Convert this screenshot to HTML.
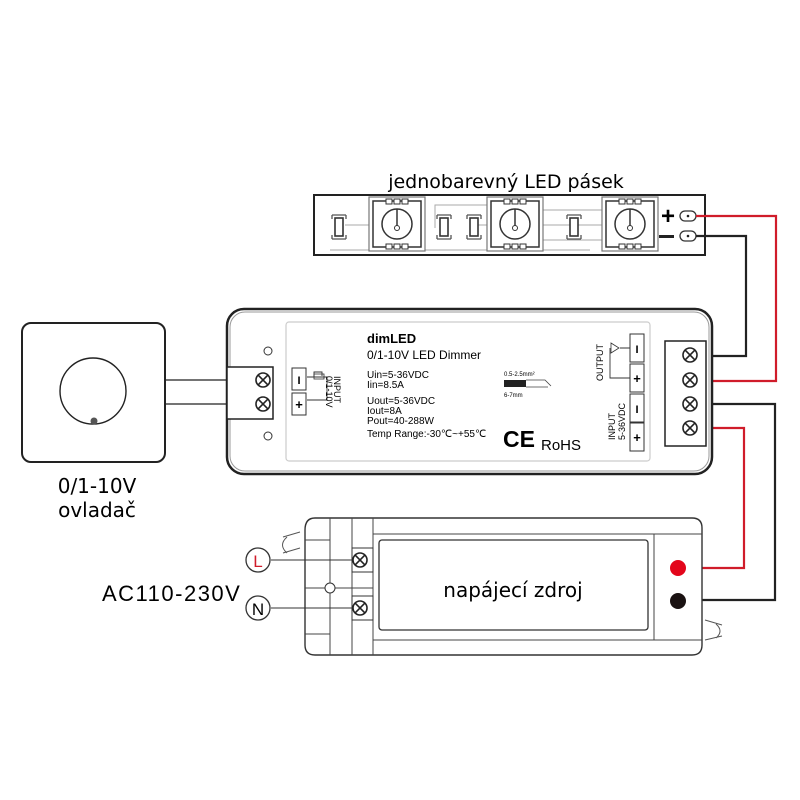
<!DOCTYPE html>
<html><head><meta charset="utf-8"><style>
html,body{margin:0;padding:0;background:#fff;}
svg{display:block;}
text{font-family:"Liberation Sans",Arial,sans-serif;}
.v{font-family:"DejaVu Sans","Liberation Sans",sans-serif;}
</style></head><body>
<svg width="800" height="800" viewBox="0 0 800 800" xmlns="http://www.w3.org/2000/svg">
<defs>
<g id="scr"><circle r="7" fill="#fff" stroke="#222" stroke-width="1.6"/><path d="M-4.9,-4.9L4.9,4.9M4.9,-4.9L-4.9,4.9" stroke="#222" stroke-width="1.6"/></g>
<g id="led"><rect x="-28" y="-27" width="56" height="54" fill="#fff" stroke="#777" stroke-width="1.2"/><rect x="-24" y="-23" width="48" height="46" fill="none" stroke="#333" stroke-width="1.5"/><circle r="15" fill="none" stroke="#333" stroke-width="1.5"/><path d="M0,-15V2" stroke="#333" stroke-width="1.5"/><circle cy="4" r="2.5" fill="none" stroke="#333"/><rect x="-11" y="-25" width="6" height="5" fill="#fff" stroke="#333"/><rect x="-3" y="-25" width="6" height="5" fill="#fff" stroke="#333"/><rect x="5" y="-25" width="6" height="5" fill="#fff" stroke="#333"/><rect x="-11" y="20" width="6" height="5" fill="#fff" stroke="#333"/><rect x="-3" y="20" width="6" height="5" fill="#fff" stroke="#333"/><rect x="5" y="20" width="6" height="5" fill="#fff" stroke="#333"/></g>
<g id="res"><path d="M-7,-12h14M-7,12h14M-7,-12v4M7,-12v4M-7,12v-4M7,12v-4" stroke="#555" stroke-width="1.3" fill="none"/><rect x="-4" y="-9" width="8" height="18" fill="#fff" stroke="#333" stroke-width="1.6"/></g>
</defs>

<text x="506" y="188" text-anchor="middle" font-size="19" class="v">jednobarevný LED pásek</text>
<g stroke="#aaa" stroke-width="1" fill="none">
<path d="M330,250H590M345,225H370M435,228V205H520V245M470,225H490M540,225H610M540,210H620M540,240H620M490,205V250"/>
</g>
<rect x="314" y="195" width="391" height="60" fill="none" stroke="#222" stroke-width="2"/>
<use href="#res" x="339" y="227"/>
<use href="#led" x="397" y="224"/>
<use href="#res" x="444" y="227"/>
<use href="#res" x="474" y="227"/>
<use href="#led" x="515" y="224"/>
<use href="#res" x="574" y="227"/>
<use href="#led" x="630" y="224"/>
<text x="668" y="224" text-anchor="middle" font-size="24" font-weight="bold">+</text>
<rect x="659" y="235" width="15" height="3" fill="#222"/>
<rect x="680" y="211" width="16" height="10" rx="5" fill="#fff" stroke="#333" stroke-width="1.3"/><circle cx="688" cy="216" r="1.3" fill="#222"/>
<rect x="680" y="231" width="16" height="10" rx="5" fill="#fff" stroke="#333" stroke-width="1.3"/><circle cx="688" cy="236" r="1.3" fill="#222"/>

<g fill="none" stroke-width="2.2">
<path d="M696,216H776V381H698" stroke="#d01c2a"/>
<path d="M696,236H746V356H698" stroke="#222"/>
<path d="M698,404H775V600H680" stroke="#222"/>
<path d="M698,428H744V568H680" stroke="#d01c2a"/>
</g>

<rect x="22" y="323" width="143" height="139" rx="9" fill="#fff" stroke="#222" stroke-width="2"/>
<circle cx="93" cy="391" r="33" fill="none" stroke="#222" stroke-width="1.4"/>
<circle cx="94" cy="421" r="3.5" fill="#555"/>
<path d="M165,380H262M165,404H262" stroke="#222" stroke-width="1.3"/>
<text x="97" y="493" text-anchor="middle" font-size="20" class="v">0/1-10V</text>
<text x="97" y="517" text-anchor="middle" font-size="20" class="v">ovladač</text>

<rect x="227" y="309" width="485" height="165" rx="17" fill="#fff" stroke="#222" stroke-width="2.5"/>
<rect x="230" y="312" width="479" height="159" rx="15" fill="none" stroke="#999" stroke-width="1"/>
<rect x="286" y="322" width="364" height="139" rx="3" fill="#fff" stroke="#ccc" stroke-width="1.2"/>
<circle cx="268" cy="351" r="4" fill="none" stroke="#333"/>
<circle cx="268" cy="436" r="4" fill="none" stroke="#333"/>
<rect x="227" y="367" width="46" height="52" fill="#fff" stroke="#222" stroke-width="1.5"/>
<use href="#scr" x="263" y="380"/><use href="#scr" x="263" y="404"/>
<rect x="292" y="368" width="14" height="22" fill="#fff" stroke="#333"/><text x="299" y="384" text-anchor="middle" font-size="11" font-weight="bold">I</text>
<rect x="292" y="393" width="14" height="22" fill="#fff" stroke="#333"/><text x="299" y="409" text-anchor="middle" font-size="13" font-weight="bold">+</text>
<path d="M307,377H314V372H322V376M310,377H327V400H307" fill="none" stroke="#333" stroke-width="0.9"/>
<rect x="314" y="374" width="10" height="5" fill="none" stroke="#333" stroke-width="0.8"/>
<text transform="translate(334,376) rotate(90)" font-size="9">INPUT</text>
<text transform="translate(326,376) rotate(90)" font-size="9">0/1-10V</text>
<text x="367" y="343" font-size="13" font-weight="bold">dimLED</text>
<text x="367" y="359" font-size="12">0/1-10V LED Dimmer</text>
<text x="367" y="378" font-size="10">Uin=5-36VDC</text>
<text x="367" y="388" font-size="10">Iin=8.5A</text>
<text x="367" y="404" font-size="10">Uout=5-36VDC</text>
<text x="367" y="414" font-size="10">Iout=8A</text>
<text x="367" y="424" font-size="10">Pout=40-288W</text>
<text x="367" y="437" font-size="10">Temp Range:-30℃~+55℃</text>
<text x="504" y="376" font-size="6">0.5-2.5mm²</text>
<rect x="504" y="380" width="22" height="7" fill="#222"/>
<path d="M526,380H545L551,386M526,387H548" stroke="#444" fill="none" stroke-width="0.8"/>
<text x="504" y="397" font-size="6">6-7mm</text>
<text x="503" y="447" font-size="23" font-weight="bold">CE</text>
<text x="541" y="450" font-size="15">RoHS</text>
<g fill="#fff" stroke="#333">
<rect x="630" y="334" width="14" height="28"/><rect x="630" y="364" width="14" height="28"/>
<rect x="630" y="394" width="14" height="28"/><rect x="630" y="423" width="14" height="28"/>
</g>
<text x="637" y="353" text-anchor="middle" font-size="11" font-weight="bold">I</text>
<text x="637" y="383" text-anchor="middle" font-size="13" font-weight="bold">+</text>
<text x="637" y="413" text-anchor="middle" font-size="11" font-weight="bold">I</text>
<text x="637" y="442" text-anchor="middle" font-size="13" font-weight="bold">+</text>
<path d="M630,348H620M610,348V378H630" fill="none" stroke="#333" stroke-width="0.9"/>
<path d="M611,343L619,348L611,353Z" fill="#fff" stroke="#333" stroke-width="0.8"/>
<text transform="translate(603,381) rotate(-90)" font-size="9">OUTPUT</text>
<text transform="translate(615,440) rotate(-90)" font-size="9">INPUT</text>
<text transform="translate(625,440) rotate(-90)" font-size="9">5-36VDC</text>
<rect x="665" y="341" width="41" height="105" fill="#fff" stroke="#222" stroke-width="1.5"/>
<use href="#scr" x="690" y="355"/><use href="#scr" x="690" y="380"/><use href="#scr" x="690" y="404"/><use href="#scr" x="690" y="428"/>

<path d="M305,530Q305,518 315,518H370M305,530V645Q305,655 315,655H692Q702,655 702,645V528Q702,518 692,518H370" fill="#fff" stroke="#333" stroke-width="1.4"/>
<path d="M373,534H702M373,640H702M330,518V655M352,518V655M373,518V655M305,540H330M305,588H373M305,634H330M654,534V640" fill="none" stroke="#444" stroke-width="1"/>
<rect x="379" y="540" width="269" height="90" rx="3" fill="#fff" stroke="#333" stroke-width="1.3"/>
<text x="513" y="597" text-anchor="middle" font-size="20" class="v">napájecí zdroj</text>
<path d="M283,537L300,532M283,553L300,548M287,537Q278,545 287,553" fill="none" stroke="#555"/>
<path d="M705,620L722,625M705,640L722,636M716,624Q724,631 716,638" fill="none" stroke="#555"/>
<rect x="352" y="548" width="21" height="24" fill="#fff" stroke="#333"/>
<rect x="352" y="596" width="21" height="24" fill="#fff" stroke="#333"/>
<path d="M271,560H355M271,608H355" stroke="#333" stroke-width="1"/>
<use href="#scr" x="360" y="560"/><use href="#scr" x="360" y="608"/>
<circle cx="330" cy="588" r="5" fill="#fff" stroke="#333"/>
<circle cx="258" cy="560" r="12" fill="#fff" stroke="#333" stroke-width="1.3"/>
<text x="258" y="567" text-anchor="middle" font-size="17" fill="#d01c2a">L</text>
<circle cx="258" cy="608" r="12" fill="#fff" stroke="#333" stroke-width="1.3"/>
<text x="258" y="615" text-anchor="middle" font-size="17">N</text>
<text x="102" y="601" font-size="22" letter-spacing="1.5">AC110-230V</text>
<circle cx="678" cy="568" r="8" fill="#e3061b"/>
<circle cx="678" cy="601" r="8" fill="#1a1212"/>
</svg>
</body></html>
